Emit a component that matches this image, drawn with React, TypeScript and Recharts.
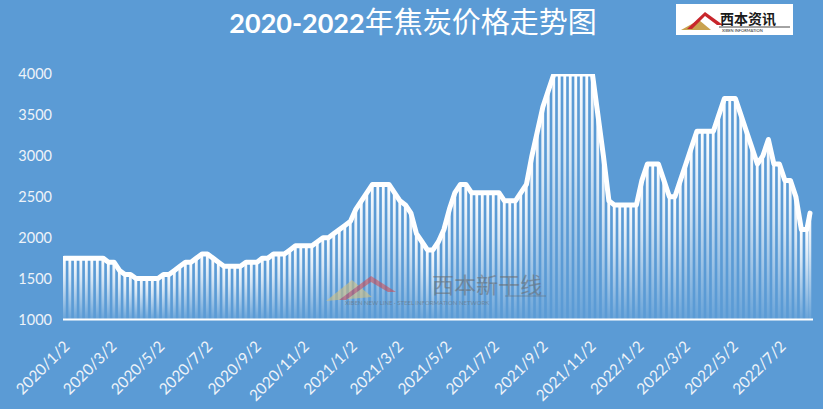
import React from "react";
import { ComposedChart, Bar, Line, XAxis, YAxis } from "recharts";

// Weekly observation dates (plus the last reading)
const dates: string[] = [
  "2020/1/2", "2020/1/9", "2020/1/16", "2020/1/23", "2020/1/30",
  "2020/2/6", "2020/2/13", "2020/2/20", "2020/2/27",
  "2020/3/5", "2020/3/12", "2020/3/19", "2020/3/26",
  "2020/4/2", "2020/4/9", "2020/4/16", "2020/4/23", "2020/4/30",
  "2020/5/7", "2020/5/14", "2020/5/21", "2020/5/28",
  "2020/6/4", "2020/6/11", "2020/6/18", "2020/6/25",
  "2020/7/2", "2020/7/9", "2020/7/16", "2020/7/23", "2020/7/30",
  "2020/8/6", "2020/8/13", "2020/8/20", "2020/8/27",
  "2020/9/3", "2020/9/10", "2020/9/17", "2020/9/24",
  "2020/10/1", "2020/10/8", "2020/10/15", "2020/10/22", "2020/10/29",
  "2020/11/5", "2020/11/12", "2020/11/19", "2020/11/26",
  "2020/12/3", "2020/12/10", "2020/12/17", "2020/12/24", "2020/12/31",
  "2021/1/7", "2021/1/14", "2021/1/21", "2021/1/28",
  "2021/2/4", "2021/2/11", "2021/2/18", "2021/2/25",
  "2021/3/4", "2021/3/11", "2021/3/18", "2021/3/25",
  "2021/4/1", "2021/4/8", "2021/4/15", "2021/4/22", "2021/4/29",
  "2021/5/6", "2021/5/13", "2021/5/20", "2021/5/27",
  "2021/6/3", "2021/6/10", "2021/6/17", "2021/6/24",
  "2021/7/1", "2021/7/8", "2021/7/15", "2021/7/22", "2021/7/29",
  "2021/8/5", "2021/8/12", "2021/8/19", "2021/8/26",
  "2021/9/2", "2021/9/9", "2021/9/16", "2021/9/23", "2021/9/30",
  "2021/10/7", "2021/10/14", "2021/10/21", "2021/10/28",
  "2021/11/4", "2021/11/11", "2021/11/18", "2021/11/25",
  "2021/12/2", "2021/12/9", "2021/12/16", "2021/12/23", "2021/12/30",
  "2022/1/6", "2022/1/13", "2022/1/20", "2022/1/27",
  "2022/2/3", "2022/2/10", "2022/2/17", "2022/2/24",
  "2022/3/3", "2022/3/10", "2022/3/17", "2022/3/24", "2022/3/31",
  "2022/4/7", "2022/4/14", "2022/4/21", "2022/4/28",
  "2022/5/5", "2022/5/12", "2022/5/19", "2022/5/26",
  "2022/6/2", "2022/6/9", "2022/6/16", "2022/6/23", "2022/6/30",
  "2022/7/7", "2022/7/14", "2022/7/21", "2022/7/28",
  "2022/8/4", "2022/8/8",
];

// Coke price (元/吨)
const prices: number[] = [
  1750, 1750, 1750, 1750, 1750,
  1750, 1750, 1750, 1700,
  1700, 1600, 1550, 1550,
  1500, 1500, 1500, 1500, 1500,
  1550, 1550, 1600, 1650,
  1700, 1700, 1750, 1800,
  1800, 1750, 1700, 1650, 1650,
  1650, 1650, 1700, 1700,
  1700, 1750, 1750, 1800,
  1800, 1800, 1850, 1900, 1900,
  1900, 1900, 1950, 2000,
  2000, 2050, 2100, 2150, 2200,
  2350, 2450, 2550, 2650,
  2650, 2650, 2650, 2550,
  2450, 2400, 2300, 2050,
  1950, 1850, 1850, 1950, 2100,
  2350, 2550, 2650, 2650,
  2550, 2550, 2550, 2550,
  2550, 2550, 2450, 2450, 2450,
  2550, 2650, 3000, 3300,
  3600, 3800, 4000, 4000, 4000,
  4000, 4000, 4000, 4000,
  4000, 3500, 3000, 2450,
  2400, 2400, 2400, 2400, 2400,
  2700, 2900, 2900, 2900,
  2700, 2500, 2500, 2700,
  2900, 3100, 3300, 3300, 3300,
  3300, 3500, 3700, 3700,
  3700, 3500, 3300, 3100,
  2900, 3000, 3200, 2900, 2900,
  2700, 2700, 2500, 2100,
  2100, 2300,
];

const tickLabels: string[] = [
  "2020/1/2", "2020/3/2", "2020/5/2", "2020/7/2", "2020/9/2", "2020/11/2",
  "2021/1/2", "2021/3/2", "2021/5/2", "2021/7/2", "2021/9/2", "2021/11/2",
  "2022/1/2", "2022/3/2", "2022/5/2", "2022/7/2",
];

const yTicks: number[] = [1000, 1500, 2000, 2500, 3000, 3500, 4000];

const dayOffset = (s: string): number => {
  const [y, m, d] = s.split("/").map(Number);
  return Math.round((Date.UTC(y, m - 1, d) - Date.UTC(2020, 0, 2)) / 86400000);
};

const data = dates.map((d, i) => ({ t: dayOffset(d), price: prices[i], date: d }));
const tickDays = tickLabels.map(dayOffset);

const TICK_COLOR = "#eef3f9";
const BG = "#5B9BD5";

const XTick = (props: any) => {
  const { x, y, payload } = props;
  const idx = tickDays.indexOf(payload.value);
  const label = idx >= 0 ? tickLabels[idx] : "";
  return (
    <text
      x={0}
      y={0}
      transform={`translate(${x + 6},${y + 28}) rotate(-45)`}
      textAnchor="end"
      fill={TICK_COLOR}
      fontSize={15.5}
      fontFamily="Lato, 'Open Sans', sans-serif"
    >
      {label}
    </text>
  );
};

const YTick = (props: any) => {
  const { x, y, payload } = props;
  return (
    <text
      x={x}
      y={y}
      dy="0.36em"
      textAnchor="end"
      fill={TICK_COLOR}
      fontSize={14.5}
      fontFamily="Lato, 'Open Sans', sans-serif"
    >
      {payload.value}
    </text>
  );
};

export default function App() {
  return (
    <div
      style={{
        position: "fixed",
        left: 0,
        top: 0,
        width: 823,
        height: 409,
        background: BG,
        overflow: "hidden",
      }}
    >
      <ComposedChart
        width={823}
        height={409}
        data={data}
        margin={{ top: 74, right: 10, bottom: 0, left: 0 }}
      >
        <defs>
          <linearGradient id="barGrad" x1="0" y1="0" x2="0" y2="1">
            <stop offset="0%" stopColor="#ffffff" stopOpacity={1} />
            <stop offset="35%" stopColor="#ffffff" stopOpacity={0.75} />
            <stop offset="70%" stopColor="#ffffff" stopOpacity={0.4} />
            <stop offset="100%" stopColor="#ffffff" stopOpacity={0.08} />
          </linearGradient>
        </defs>
        <XAxis
          dataKey="t"
          type="number"
          domain={[-1.9, 952.8]}
          allowDataOverflow
          ticks={tickDays}
          interval={0}
          height={89.5}
          tickSize={0}
          tickMargin={0}
          tickLine={false}
          axisLine={{ stroke: "#ffffff", strokeWidth: 2 }}
          tick={<XTick />}
        />
        <YAxis
          type="number"
          domain={[1000, 4000]}
          allowDataOverflow
          ticks={yTicks}
          interval={0}
          width={63}
          tickSize={0}
          tickMargin={11}
          axisLine={false}
          tickLine={false}
          tick={<YTick />}
        />
        <Bar dataKey="price" barSize={4.5} fill="url(#barGrad)" isAnimationActive={false} />
        <Line
          dataKey="price"
          type="linear"
          stroke="#ffffff"
          strokeWidth={5}
          strokeLinejoin="round"
          strokeLinecap="round"
          dot={false}
          activeDot={false}
          isAnimationActive={false}
        />
      </ComposedChart>
      <svg
        width={823}
        height={409}
        style={{ position: "absolute", left: 0, top: 0, pointerEvents: "none" }}
      >
        {/* Title */}
        <text x={413} y={33} textAnchor="middle" fill="#ffffff">
          <tspan fontFamily="Lato, sans-serif" fontWeight={700} fontSize={27}>
            2020-2022
          </tspan>
          <tspan fontFamily="'Noto Sans CJK SC', sans-serif" fontWeight={400} fontSize={29}>
            年焦炭价格走势图
          </tspan>
        </text>
        {/* Logo box */}
        <rect x={676} y={4} width={117} height={31} fill="#ffffff" />
        <polygon points="681,30 699,20 711,30" fill="#c9a24f" />
        <polygon points="687,29 705,12 723,25 717,25 705,16 692,29" fill="#c8262c" />
        <text
          x={720}
          y={24}
          fontFamily="'Noto Sans CJK SC', sans-serif"
          fontWeight={700}
          fontSize={14}
          fill="#1a1a1a"
        >
          西本资讯
        </text>
        <line x1={719} y1={27} x2={790} y2={27} stroke="#1a1a1a" strokeWidth={0.8} />
        <text x={722} y={32} fontFamily="Lato, sans-serif" fontSize={4} fill="#1a1a1a">
          XIBEN INFORMATION
        </text>
        {/* Watermark */}
        <g opacity={0.55}>
          <polygon points="326,301 352,280 372,297" fill="#d9c27a" />
          <polygon points="339,300 371,276 396,292 388,292 371,282 346,300" fill="#d2474e" />
          <text
            x={432}
            y={293}
            fontFamily="'Noto Sans CJK SC', sans-serif"
            fontSize={22}
            fill="#6b6b6b"
          >
            西本新干线
          </text>
          <line x1={505} y1={296} x2={546} y2={296} stroke="#6b6b6b" strokeWidth={1} />
          <text x={345} y={305} fontFamily="Lato, sans-serif" fontSize={6} fill="#6b6b6b">
            XIBEN NEW LINE · STEEL INFORMATION NETWORK
          </text>
        </g>
      </svg>
    </div>
  );
}
